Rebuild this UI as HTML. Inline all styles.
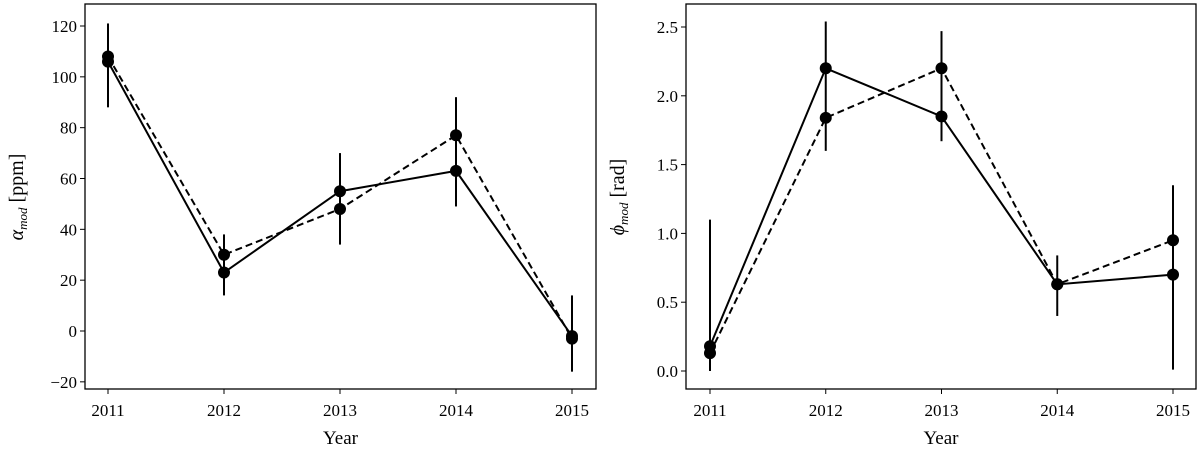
<!DOCTYPE html>
<html><head><meta charset="utf-8"><style>
body{margin:0;background:#fff}
svg text{font-family:"Liberation Serif",serif;fill:#000}
</style></head><body>
<svg id="c" width="1200" height="451" xmlns="http://www.w3.org/2000/svg"></svg>
<script>
const years=[2011,2012,2013,2014,2015];
const alphaSolid=[106,23,55,63,-2];
const alphaDashed=[108,30,48,77,-3];
const alphaErrLow=[88,14,34,49,-16];
const alphaErrHigh=[121,38,70,92,14];
const alphaTicks=[-20,0,20,40,60,80,100,120];
const phiSolid=[0.18,2.2,1.85,0.63,0.70];
const phiDashed=[0.13,1.84,2.2,0.63,0.95];
const phiErrLow=[0,1.6,1.67,0.4,0.01];
const phiErrHigh=[1.1,2.54,2.47,0.84,1.35];
const phiTicks=[0.0,0.5,1.0,1.5,2.0,2.5];
const NS='http://www.w3.org/2000/svg';
const svg=document.getElementById('c');
function mk(tag,attrs,parent){const e=document.createElementNS(NS,tag);for(const k in attrs)e.setAttribute(k,attrs[k]);(parent||svg).appendChild(e);return e;}
function panel(cfg){
  const g=mk('g',{});
  
  
  const xs=i=>cfg.x0+(years[i]-2011)*(cfg.x1-cfg.x0)/4;
  const ys=v=>cfg.yA+(v-cfg.vA)*(cfg.yB-cfg.yA)/(cfg.vB-cfg.vA);
  const frame=mk('rect',{x:cfg.L,y:4,width:cfg.R-cfg.L,height:385,fill:'none',stroke:'#000','stroke-width':1.3},g);
  
  
  cfg.ticks.forEach(t=>{
    const y=ys(t);
    mk('line',{x1:cfg.L-5,x2:cfg.L,y1:y,y2:y,stroke:'#000','stroke-width':1},g);
    const tx=mk('text',{x:cfg.L-8,y:y+6,'text-anchor':'end','font-size':17},g);
    tx.textContent=cfg.fmt(t).replace('-','\u2212');
    
    
  });
  years.forEach((yr,i)=>{
    const x=xs(i);
    mk('line',{x1:x,x2:x,y1:389,y2:394,stroke:'#000','stroke-width':1},g);
    const tx=mk('text',{x:x,y:416,'text-anchor':'middle','font-size':17},g);
    tx.textContent=yr;
    
    
  });
  const xl=mk('text',{x:(cfg.L+cfg.R)/2,y:444,'text-anchor':'middle','font-size':19},g);
  xl.textContent='Year';
  
  
  const yl=mk('text',{transform:`translate(${cfg.L-62},197) rotate(-90)`,'text-anchor':'middle','font-size':20},g);
  yl.innerHTML=cfg.ylab;
  
  
  years.forEach((yr,i)=>{
    const e=mk('line',{x1:xs(i),x2:xs(i),y1:ys(cfg.lo[i]),y2:ys(cfg.hi[i]),stroke:'#000','stroke-width':2},g);
    
    
  });
  const lineFor=(arr,dash,nm)=>{
    const p=mk('polyline',{points:arr.map((v,i)=>xs(i)+','+ys(v)).join(' '),fill:'none',stroke:'#000','stroke-width':2,'stroke-dasharray':dash},g);
    
    
    arr.forEach((v,i)=>{
      const c=mk('circle',{cx:xs(i),cy:ys(v),r:6,fill:'#000'},g);
      
      
    });
  };
  lineFor(cfg.solid,'none','solid-series');
  lineFor(cfg.dashed,'7,4','dashed-series');
}
panel({name:'alpha-panel',L:85,R:596,x0:108,x1:572,vA:0,yA:331,vB:120,yB:26,ticks:alphaTicks,fmt:t=>String(t),
  ylab:'<tspan font-style="italic">α</tspan><tspan font-style="italic" font-size="13" dy="4">mod</tspan><tspan dy="-4"> [ppm]</tspan>',
  solid:alphaSolid,dashed:alphaDashed,lo:alphaErrLow,hi:alphaErrHigh});
panel({name:'phi-panel',L:686,R:1196,x0:710,x1:1173,vA:0,yA:371,vB:2.5,yB:27,ticks:phiTicks,fmt:t=>t.toFixed(1),
  ylab:'<tspan font-style="italic">ϕ</tspan><tspan font-style="italic" font-size="13" dy="4">mod</tspan><tspan dy="-4"> [rad]</tspan>',
  solid:phiSolid,dashed:phiDashed,lo:phiErrLow,hi:phiErrHigh});
</script>
</body></html>
